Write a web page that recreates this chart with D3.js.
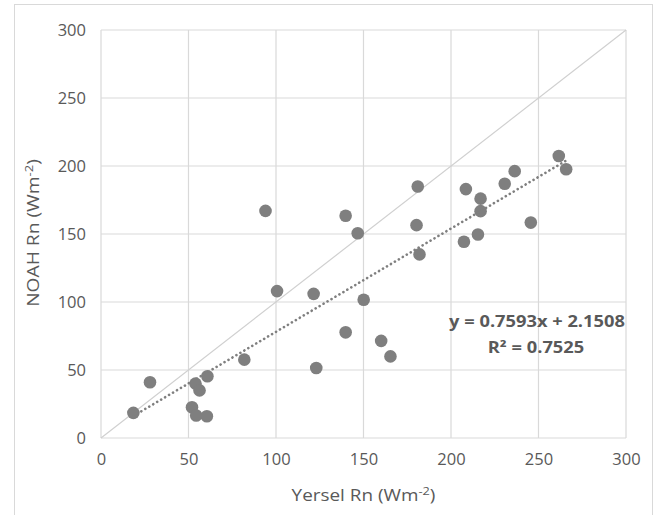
<!DOCTYPE html>
<html>
<head>
<meta charset="utf-8">
<script src="https://cdn.jsdelivr.net/npm/d3@7"></script>
<style>
  body { margin: 0; background: #fff; }
  svg { display: block; font-family: "Open Sans", sans-serif; }
</style>
</head>
<body>
<div id="chart"></div>
<script>
// 読み取った値 (Yersel Rn, NOAH Rn)
const yersel = [18.5, 28, 52, 54.4, 60.5, 54, 56.3, 60.8, 81.9, 94, 100.6, 121.5, 123, 139.8, 146.7, 150.1,
  139.8, 160.1, 165.4, 181, 180.3, 208.5, 236.4, 230.7, 216.9, 216.9, 207.4, 215.4, 245.6, 261.6, 265.8, 182];
const noah = [18.5, 41, 22.6, 16.5, 16, 40, 35, 45.4, 57.6, 167, 108, 106, 51.5, 163.4, 150.6, 101.7,
  77.7, 71.4, 60, 184.9, 156.5, 183, 196.2, 186.9, 176, 166.8, 144.3, 149.6, 158.4, 207.4, 197.6, 135];
const ticks = [0, 50, 100, 150, 200, 250, 300];
const slope = 0.7593, intercept = 2.1508;
const eqText = "y = 0.7593x + 2.1508";
const r2Text = "R² = 0.7525";

const width = 657, height = 515;
const margin = { left: 101, right: 31, top: 30, bottom: 77 };

const svg = d3.select("#chart").append("svg")
  .attr("width", width)
  .attr("height", height);

// 外枠
svg.append("rect")
  .attr("x", 14.5).attr("y", 4.5)
  .attr("width", 638).attr("height", 520)
  .attr("fill", "none").attr("stroke", "#d9d9d9");

const x = d3.scaleLinear().domain([0, 300]).range([margin.left, width - margin.right]);
const y = d3.scaleLinear().domain([0, 300]).range([height - margin.bottom, margin.top]);

// グリッド
const g = svg.append("g");
g.selectAll(".gx").data(ticks).enter().append("line")
  .attr("x1", d => x(d)).attr("x2", d => x(d))
  .attr("y1", y(0)).attr("y2", y(300))
  .attr("stroke", "#d9d9d9").attr("stroke-width", 1.2);
g.selectAll(".gy").data(ticks).enter().append("line")
  .attr("x1", x(0)).attr("x2", x(300))
  .attr("y1", d => y(d)).attr("y2", d => y(d))
  .attr("stroke", "#d9d9d9").attr("stroke-width", 1.2);

// 軸ラベル
const xAxis = svg.append("g")
  .attr("transform", `translate(0,${y(0) + 12})`)
  .call(d3.axisBottom(x).tickValues(ticks).tickSize(0).tickFormat(d3.format("d")));
const yAxis = svg.append("g")
  .attr("transform", `translate(${x(0) - 12},0)`)
  .call(d3.axisLeft(y).tickValues(ticks).tickSize(0).tickFormat(d3.format("d")));
[xAxis, yAxis].forEach(a => {
  a.select(".domain").remove();
  a.selectAll("text").attr("fill", "#595959").attr("font-size", 16.5)
    .attr("font-family", "Open Sans, sans-serif");
});
yAxis.selectAll("text").attr("dy", "0.35em");

// 1:1 線
svg.append("line")
  .attr("x1", x(0)).attr("y1", y(0))
  .attr("x2", x(300)).attr("y2", y(300))
  .attr("stroke", "#d0d0d0").attr("stroke-width", 1.2);

// 点
svg.selectAll("circle").data(yersel).enter().append("circle")
  .attr("cx", d => x(d))
  .attr("cy", (d, i) => y(noah[i]))
  .attr("r", 6.3)
  .attr("fill", "#7f7f7f");

// 回帰線
const xmin = d3.min(yersel), xmax = d3.max(yersel);
svg.append("line")
  .attr("x1", x(xmin)).attr("y1", y(slope * xmin + intercept))
  .attr("x2", x(xmax)).attr("y2", y(slope * xmax + intercept))
  .attr("stroke", "#7f7f7f").attr("stroke-width", 2.6)
  .attr("stroke-dasharray", "0.1,4.5").attr("stroke-linecap", "round");

// 式 (横に少し引き伸ばす)
svg.append("text")
  .attr("transform", "translate(537,327) scale(1.18,1)")
  .attr("text-anchor", "middle").attr("font-weight", "bold")
  .attr("font-size", 15.5).attr("fill", "#595959")
  .text(eqText);
svg.append("text")
  .attr("transform", "translate(536,353) scale(1.18,1)")
  .attr("text-anchor", "middle").attr("font-weight", "bold")
  .attr("font-size", 15.5).attr("fill", "#595959")
  .text(r2Text);

// 軸タイトル
const xt = svg.append("text")
  .attr("transform", `translate(${(x(0) + x(300)) / 2},501) scale(1.22,1)`)
  .attr("text-anchor", "middle").attr("font-size", 15.5).attr("fill", "#595959");
xt.append("tspan").text("Yersel Rn (Wm");
xt.append("tspan").attr("dy", -6).attr("font-size", 10.5).text("-2");
xt.append("tspan").attr("dy", 6).text(")");

const yt = svg.append("text")
  .attr("transform", `translate(39,233) rotate(-90) scale(1.24,1)`)
  .attr("text-anchor", "middle").attr("font-size", 15.5).attr("fill", "#595959");
yt.append("tspan").text("NOAH Rn (Wm");
yt.append("tspan").attr("dy", -6).attr("font-size", 10.5).text("-2");
yt.append("tspan").attr("dy", 6).text(")");
</script>
</body>
</html>
